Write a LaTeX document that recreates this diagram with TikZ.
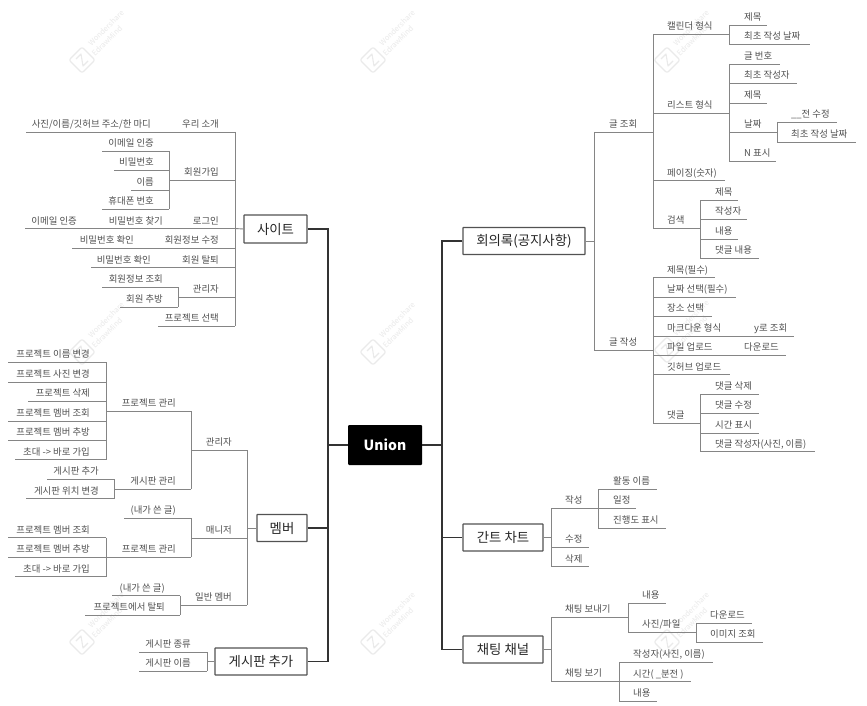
\documentclass[tikz,border=0pt]{standalone}
\usepackage{fontspec}
\setmainfont{Noto Sans CJK KR}
\definecolor{txt}{HTML}{505050}
\definecolor{brn}{HTML}{858585}
\definecolor{trk}{HTML}{333333}
\definecolor{wmk}{HTML}{EAEAEA}
\tikzset{
  lab/.style={inner sep=0pt,text=txt,font=\fontsize{9.4}{12}\selectfont},
  brline/.style={draw=brn,line width=0.9pt},
  trunkline/.style={draw=trk,line width=1.5pt},
  topicbox/.style={draw=trk!85,line width=1.2pt,fill=white,inner sep=0pt,rounded corners=0.5pt,text=black!85,font=\fontsize{13.4}{15}\selectfont},
  rootbox/.style={fill=black,text=white,inner sep=0pt,rounded corners=1pt,font=\fontsize{14}{16}\bfseries\selectfont},
  wmtext/.style={inner sep=0pt,text=wmk,rotate=45,font=\fontsize{7.5}{9}\selectfont},
  wmline/.style={draw=wmk,line width=1.1pt,line join=round}
}
% left-hand topic: name, line start x, line end x, line y, text right x, text
\newcommand\ltopic[6]{%
  \coordinate (#1-a) at (#2,#4);\coordinate (#1-b) at (#3,#4);
  \draw[brline] (#1-a) -- (#1-b);
  \node[lab,anchor=base east] (#1) at (#5,{#4-4.5}) {#6};}
% right-hand topic: name, line start x, line end x, line y, text left x, text
\newcommand\rtopic[6]{%
  \coordinate (#1-a) at (#2,#4);\coordinate (#1-b) at (#3,#4);
  \draw[brline] (#1-a) -- (#1-b);
  \node[lab,anchor=base west] (#1) at (#5,{#4-4.5}) {#6};}
\newcommand\wmark[3]{%
  \begin{scope}[shift={(#2,#3)}]
    \draw[wmline,rounded corners=2pt] (0,-13) -- (13,0) -- (0,13) -- (-13,0) -- cycle;
    \draw[wmline] (-6,-1) -- (-1,-6) -- (1,6) -- (6,1);
    \node[wmtext] (#1w) at (24,-32) {Wondershare};
    \node[wmtext] (#1e) at (25,-19) {EdrawMind};
  \end{scope}}
\begin{document}
\begin{tikzpicture}[x=1pt,y=-1pt]
\useasboundingbox (0,0) rectangle (867,706);
\fill[white] (0,0) rectangle (867,706);
% watermarks
\wmark{wa}{82}{60}\wmark{wb}{373}{60}\wmark{wc}{667}{60}
\wmark{wd}{82}{352}\wmark{we}{373}{352}\wmark{wf}{667}{350}
\wmark{wg}{82}{642}\wmark{wh}{373}{642}\wmark{wi}{667}{642}
% main boxes
\node[rootbox,minimum width=74pt,minimum height=40pt] (union) at (385,445) {Union};
\node[topicbox,minimum width=63pt,minimum height=28pt] (site) at (275.5,229) {사이트};
\node[topicbox,minimum width=50pt,minimum height=27pt] (member) at (282,528) {멤버};
\node[topicbox,minimum width=92pt,minimum height=27pt] (board) at (261,661.5) {게시판 추가};
\node[topicbox,minimum width=122pt,minimum height=27pt] (minutes) at (524,241) {회의록(공지사항)};
\node[topicbox,minimum width=80pt,minimum height=27pt] (gantt) at (503,537.5) {간트 차트};
\node[topicbox,minimum width=80pt,minimum height=27pt] (chat) at (503,649.5) {채팅 채널};
% trunks
\coordinate (jl) at (328,445);\coordinate (jr) at (442,445);
\draw[brline,draw=trk,line width=1.2pt] (union.west) -- (jl);
\draw[brline,draw=trk,line width=1.2pt] (union.east) -- (jr);
\draw[trunkline] (site.east) -| (jl);
\draw[trunkline] (board.east) -| (jl);
\draw[trunkline] (member.east) -- (member.east -| jl);
\draw[trunkline] (minutes.west) -| (jr);
\draw[trunkline] (chat.west) -| (jr);
\draw[trunkline] (gantt.west) -- (gantt.west -| jr);
% ---- site
\ltopic{s1}{26}{235}{132}{219}{우리 소개}
\node[lab,anchor=base east] (s1x) at (151,127.5) {사진/이름/깃허브 주소/한 마디};
\ltopic{s2}{169}{235}{180}{219}{회원가입}
\ltopic{s21}{102}{169}{151}{154}{이메일 인증}
\ltopic{s22}{114}{169}{170}{154}{비밀번호}
\ltopic{s23}{131}{169}{190}{154}{이름}
\ltopic{s24}{102}{169}{209}{154}{휴대폰 번호}
\draw[brline] (s21-b) -- (s24-b);
\ltopic{s3}{25}{235}{228.5}{219}{로그인}
\node[lab,anchor=base east] (s3x) at (163,224) {비밀번호 찾기};
\node[lab,anchor=base east] (s3y) at (77,224) {이메일 인증};
\ltopic{s4}{72}{235}{248}{219}{회원정보 수정}
\node[lab,anchor=base east] (s4x) at (134,243.5) {비밀번호 확인};
\ltopic{s5}{91}{235}{267.5}{219}{회원 탈퇴}
\node[lab,anchor=base east] (s5x) at (151,263) {비밀번호 확인};
\ltopic{s6}{178}{235}{297}{219}{관리자}
\ltopic{s61}{102}{178}{287}{163}{회원정보 조회}
\ltopic{s62}{120}{178}{307}{163}{회원 추방}
\draw[brline] (s61-b) -- (s62-b);
\ltopic{s7}{158}{235}{326}{219}{프로젝트 선택}
\draw[brline] (s1-b) -- (s7-b);
\draw[brline] (site.west) -- (s3-b);
% ---- member
\ltopic{m1}{191}{247}{450}{232}{관리자}
\ltopic{m11}{106}{191}{411}{176}{프로젝트 관리}
\ltopic{m111}{8}{106}{362}{90}{프로젝트 이름 변경}
\ltopic{m112}{8}{106}{382}{90}{프로젝트 사진 변경}
\ltopic{m113}{28}{106}{401}{90}{프로젝트 삭제}
\ltopic{m114}{8}{106}{421}{90}{프로젝트 멤버 조회}
\ltopic{m115}{8}{106}{440}{90}{프로젝트 멤버 추방}
\ltopic{m116}{15}{106}{459.5}{90}{초대 -> 바로 가입}
\draw[brline] (m111-b) -- (m116-b);
\ltopic{m12}{114}{191}{489}{176}{게시판 관리}
\ltopic{m121}{47}{114}{479}{99}{게시판 추가}
\ltopic{m122}{26}{114}{498.5}{99}{게시판 위치 변경}
\draw[brline] (m121-b) -- (m122-b);
\draw[brline] (m11-b) -- (m12-b);
\ltopic{m2}{191}{247}{538}{232}{매니저}
\ltopic{m21}{124}{191}{518}{176}{(내가 쓴 글)}
\ltopic{m22}{8}{191}{557}{176}{프로젝트 관리}
\draw[brline] (m21-b) -- (m22-b);
\ltopic{m221}{8}{106}{537.5}{90}{프로젝트 멤버 조회}
\ltopic{m223}{15}{106}{576.5}{90}{초대 -> 바로 가입}
\node[lab,anchor=base east] (m222) at (90,552.5) {프로젝트 멤버 추방};
\draw[brline] (m221-b) -- (m223-b);
\ltopic{m3}{180}{247}{605}{232}{일반 멤버}
\ltopic{m31}{112}{180}{595.5}{165}{(내가 쓴 글)}
\ltopic{m32}{85}{180}{615}{165}{프로젝트에서 탈퇴}
\draw[brline] (m31-b) -- (m32-b);
\draw[brline] (m1-b) -- (m3-b);
\draw[brline] (member.west) -- (member.west -| m1-b);
% ---- board
\ltopic{b1}{139}{207}{652}{191}{게시판 종류}
\ltopic{b2}{139}{207}{671}{191}{게시판 이름}
\draw[brline] (b1-b) -- (b2-b);
\draw[brline] (board.west) -- (board.west -| b1-b);
% ---- minutes
\rtopic{r1}{594}{653}{132}{609}{글 조회}
\rtopic{r11}{653}{729}{34}{667}{캘린더 형식}
\rtopic{r111}{729}{767}{25}{744}{제목}
\rtopic{r112}{729}{810}{44}{744}{최초 작성 날짜}
\draw[brline] (r111-a) -- (r112-a);
\rtopic{r12}{653}{729}{113}{667}{리스트 형식}
\rtopic{r121}{729}{780}{64}{744}{글 번호}
\rtopic{r122}{729}{797}{83}{744}{최초 작성자}
\rtopic{r123}{729}{767}{103}{744}{제목}
\rtopic{r124}{729}{777}{132}{744}{날짜}
\rtopic{r125}{729}{776}{161}{744}{N 표시}
\draw[brline] (r121-a) -- (r125-a);
\rtopic{r1241}{777}{837}{122}{791}{\_\_전 수정}
\rtopic{r1242}{777}{856}{142}{791}{최초 작성 날짜}
\draw[brline] (r1241-a) -- (r1242-a);
\rtopic{r13}{653}{725}{180.5}{667}{페이징(숫자)}
\rtopic{r14}{653}{700}{228}{667}{검색}
\rtopic{r141}{700}{738}{200}{715}{제목}
\rtopic{r142}{700}{747}{219}{715}{작성자}
\rtopic{r143}{700}{738}{239}{715}{내용}
\rtopic{r144}{700}{759}{258}{715}{댓글 내용}
\draw[brline] (r141-a) -- (r144-a);
\draw[brline] (r11-a) -- (r14-a);
\rtopic{r2}{594}{653}{350}{609}{글 작성}
\rtopic{r21}{653}{715}{277.5}{667}{제목(필수)}
\rtopic{r22}{653}{736}{297}{667}{날짜 선택(필수)}
\rtopic{r23}{653}{712}{316}{667}{장소 선택}
\rtopic{r24}{653}{794}{336}{667}{마크다운 형식}
\node[lab,anchor=base west] (r24x) at (754,331.5) {y로 조회};
\rtopic{r25}{653}{786}{355}{667}{파일 업로드}
\node[lab,anchor=base west] (r25x) at (744,350.5) {다운로드};
\rtopic{r26}{653}{730}{374.5}{667}{깃허브 업로드}
\rtopic{r27}{653}{700}{423}{667}{댓글}
\rtopic{r271}{700}{759}{394}{715}{댓글 삭제}
\rtopic{r272}{700}{759}{413}{715}{댓글 수정}
\rtopic{r273}{700}{759}{433}{715}{시간 표시}
\rtopic{r274}{700}{815}{451.5}{715}{댓글 작성자(사진, 이름)}
\draw[brline] (r271-a) -- (r274-a);
\draw[brline] (r21-a) -- (r27-a);
\draw[brline] (r1-a) -- (r2-a);
\draw[brline] (minutes.east) -- (minutes.east -| r1-a);
% ---- gantt
\rtopic{g1}{551}{636}{508}{565}{작성}
\rtopic{g11}{598}{657}{489}{613}{활동 이름}
\rtopic{g13}{598}{666}{528}{613}{진행도 표시}
\node[lab,anchor=base west] (g12) at (613,503.5) {일정};
\draw[brline] (g11-a) -- (g13-a);
\rtopic{g2}{551}{589}{547}{565}{수정}
\rtopic{g3}{551}{589}{566.5}{565}{삭제}
\draw[brline] (g1-a) -- (g3-a);
\draw[brline] (gantt.east) -- (gantt.east -| g1-a);
% ---- chat
\rtopic{c1}{551}{628}{617}{565}{채팅 보내기}
\rtopic{c11}{628}{666}{603}{642}{내용}
\rtopic{c12}{628}{696}{632}{642}{사진/파일}
\draw[brline] (c11-a) -- (c12-a);
\rtopic{c121}{696}{752}{623}{710}{다운로드}
\rtopic{c122}{696}{763}{642}{710}{이미지 조회}
\draw[brline] (c121-a) -- (c122-a);
\rtopic{c2}{551}{619}{681}{565}{채팅 보기}
\rtopic{c21}{619}{713}{662}{633}{작성자(사진, 이름)}
\rtopic{c22}{619}{691}{681.5}{633}{시간( \_분전 )}
\rtopic{c23}{619}{657}{701}{633}{내용}
\draw[brline] (c21-a) -- (c23-a);
\draw[brline] (c1-a) -- (c2-a);
\draw[brline] (chat.east) -- (chat.east -| c1-a);
\end{tikzpicture}
\end{document}
